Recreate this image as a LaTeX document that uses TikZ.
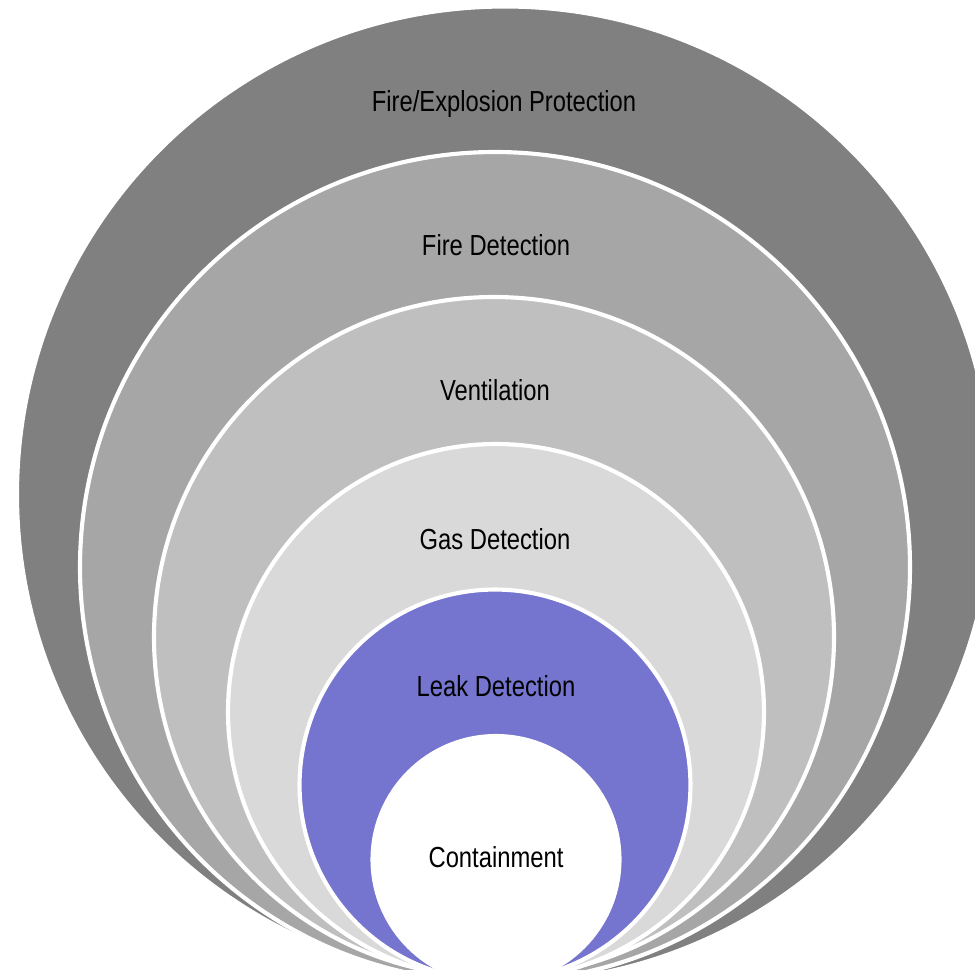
\documentclass[tikz,border=0pt]{standalone}
\usepackage{fontspec}
\setmainfont{Liberation Sans}[FakeStretch=0.82]
\definecolor{ringA}{HTML}{808080}
\definecolor{ringB}{HTML}{A6A6A6}
\definecolor{ringC}{HTML}{BFBFBF}
\definecolor{ringD}{HTML}{D9D9D9}
\definecolor{ringE}{HTML}{7575CF}
\tikzset{
  ring/.style={draw=white, line width=3.1pt},
  lbl/.style={anchor=base, inner sep=0pt, text=black, font=\fontsize{21.75pt}{26pt}\selectfont}
}
\begin{document}
\begin{tikzpicture}[x=0.75pt,y=-0.75pt]
\useasboundingbox (0,0) rectangle (975,970);
\clip (0,0) rectangle (975,970);
\fill[white] (0,0) rectangle (975,970);
\path[ring, fill=ringA] (505,494.5) circle[radius=366pt];
\path[ring, fill=ringB] (495,567) circle[radius=311.25pt];
\path[ring, fill=ringC] (494,637) circle[radius=255pt];
\path[ring, fill=ringD] (496,712) circle[radius=201pt];
\path[ring, fill=ringE] (495,785) circle[radius=146.6pt];
\path[ring, fill=white] (496,859.5) circle[radius=92.6pt];
\node[lbl] (fep) at (504,111.5) {Fire/Explosion Protection};
\node[lbl] (fd) at (496,255.5) {Fire Detection};
\node[lbl] (vent) at (495,400.5) {Ventilation};
\node[lbl] (gas) at (495,549.5) {Gas Detection};
\node[lbl] (leak) at (496,696) {Leak Detection};
\node[lbl] (cont) at (496,867.5) {Containment};
\end{tikzpicture}
\end{document}
